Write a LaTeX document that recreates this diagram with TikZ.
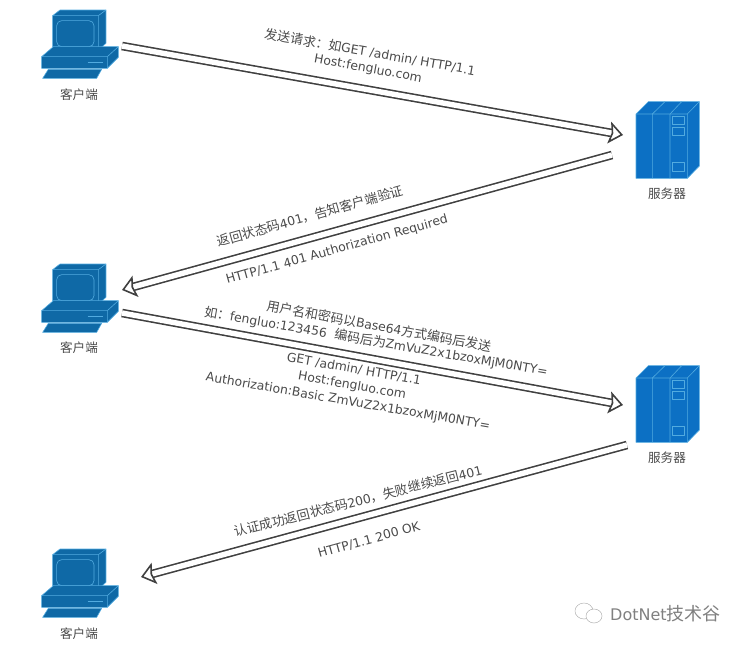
\documentclass[tikz,border=0pt]{standalone}
\usepackage{fontspec}
\setmainfont{DejaVu Sans}
\newfontfamily\cjk{Noto Sans CJK SC}
\newcommand{\zh}[1]{{\cjk\fontsize{13}{15}\selectfont #1}}
\usetikzlibrary{arrows.meta}
\definecolor{pcblue}{HTML}{0F69A6}
\definecolor{srvblue}{HTML}{0C70C4}
\definecolor{edgeblue}{HTML}{52ABE0}
\definecolor{textgray}{HTML}{4A4A4A}
\tikzset{
	msg/.style={font=\fontsize{12.4}{14}\selectfont,text=textgray,inner sep=0pt},
	iconlabel/.style={font=\fontsize{12.6}{14}\selectfont\cjk,text=textgray,inner sep=0pt},
	hollow/.style={double=white,double distance=5.4pt,line width=1.6pt,draw=black!75,
		-{Stealth[inset=2.5pt,length=14pt,width=22pt,fill=white,line width=1.6pt]}},
	pic-line/.style={draw=edgeblue,line width=0.6pt,line join=round},
	pcicon/.pic={
		\begin{scope}[x=0.3333pt,y=-0.3333pt]
		\path[pic-line,fill=pcblue] (98,47)--(120,30)--(258,30)--(258,130)--(235,150)--(98,150)--cycle;
		\draw[pic-line] (98,47)--(235,47)--(258,30) (235,47)--(235,150);
		\draw[pic-line,rounded corners=5pt] (110,62) rectangle (222,140);
		\path[pic-line,fill=pcblue] (65,170)--(100,140)--(295,140)--(295,172)--(262,205)--(65,205)--cycle;
		\draw[pic-line] (65,170)--(262,170)--(295,140) (262,170)--(262,205);
		\draw[pic-line,line width=1pt] (203,188)--(250,188);
		\path[pic-line,fill=pcblue] (85,208)--(245,208)--(230,235)--(68,235)--cycle;
		\end{scope}
	},
	srvicon/.pic={
		\begin{scope}[x=0.3333pt,y=-0.3333pt]
		\path[pic-line,fill=srvblue] (108,72)--(145,35)--(298,35)--(298,228)--(262,265)--(108,265)--cycle;
		\draw[pic-line] (108,72)--(262,72)--(298,35) (262,72)--(262,265);
		\draw[pic-line] (157,72)--(157,265) (157,72)--(195,35);
		\draw[pic-line] (210,72)--(210,265) (210,72)--(245,35);
		\draw[pic-line] (217,80) rectangle (252,103);
		\draw[pic-line] (217,112) rectangle (252,135);
		\draw[pic-line] (217,218) rectangle (252,245);
		\end{scope}
	},
}
\begin{document}
\begin{tikzpicture}[x=1pt,y=-1pt]
	\useasboundingbox (0,0) rectangle (746,646);
	% clients and servers
	\pic at (20,0) {pcicon};
	\pic at (20,254) {pcicon};
	\pic at (20,539) {pcicon};
	\pic at (600,90) {srvicon};
	\pic at (600,354) {srvicon};
	\node[iconlabel] (client1) at (79,95) {客户端};
	\node[iconlabel] (client2) at (79,348) {客户端};
	\node[iconlabel] (client3) at (79,634) {客户端};
	\node[iconlabel] (server1) at (667,194) {服务器};
	\node[iconlabel] (server2) at (667,458) {服务器};
	% arrow ends
	\coordinate (reqstart) at (122,46);
	\coordinate (reqend) at (623,135);
	\coordinate (denystart) at (612,155);
	\coordinate (denyend) at (122,290);
	\coordinate (authstart) at (122,313);
	\coordinate (authend) at (623,405);
	\coordinate (okstart) at (627,445);
	\coordinate (okend) at (141,577);
	\draw[hollow] (reqstart)--(reqend);
	\draw[hollow] (denystart)--(denyend);
	\draw[hollow] (authstart)--(authend);
	\draw[hollow] (okstart)--(okend);
	% messages
	\node[msg,rotate=-10] (req1) at (370,52) {\zh{发送请求：如}GET /admin/ HTTP/1.1};
	\node[msg,rotate=-10.5] (req2) at (368,69) {Host:fengluo.com};
	\node[msg,rotate=15.7] (deny1) at (310,216) {\zh{返回状态码}401\zh{，告知客户端验证}};
	\node[msg,rotate=15.5] (deny2) at (337,250) {HTTP/1.1 401 Authorization Required};
	\node[msg,rotate=-10.4] (auth1) at (379,326) {\zh{用户名和密码以}Base64\zh{方式编码后发送}};
	\node[msg,rotate=-9.8] (auth2) at (376,342) {\zh{如：}fengluo:123456\ \ \zh{编码后为}ZmVuZ2x1bzoxMjM0NTY=};
	\node[msg,rotate=-10] (auth3) at (354,369) {GET /admin/ HTTP/1.1};
	\node[msg,rotate=-10] (auth4) at (352,386) {Host:fengluo.com};
	\node[msg,rotate=-9.8] (auth5) at (348,402) {Authorization:Basic ZmVuZ2x1bzoxMjM0NTY=};
	\node[msg,rotate=14.2] (ok1) at (358,501) {\zh{认证成功返回状态码}200\zh{，失败继续返回}401};
	\node[msg,rotate=15.5] (ok2) at (369,540) {HTTP/1.1 200 OK};
	% watermark
	\draw[gray!60,line width=0.5pt] (584,611) ellipse (9pt and 8pt);
	\draw[gray!60,line width=0.5pt,fill=white] (594,616) ellipse (8pt and 7pt);
	\node[font=\fontsize{16}{18}\selectfont,text=gray,inner sep=0pt,anchor=west] (mark) at (610,614) {DotNet{\cjk\fontsize{18}{20}\selectfont 技术谷}};
\end{tikzpicture}
\end{document}
